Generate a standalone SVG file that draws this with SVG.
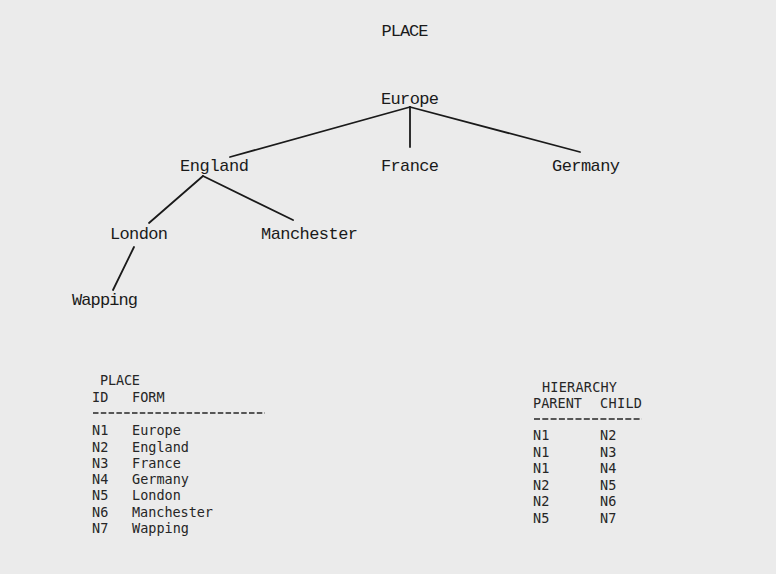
<svg xmlns="http://www.w3.org/2000/svg" width="776" height="574" viewBox="0 0 776 574">
<style>
.bg{fill:#ebebeb}
.n{font-family:"Liberation Mono","DejaVu Sans Mono",monospace;font-size:17px;fill:#1a1a1a;text-anchor:middle}
.t{font-family:"DejaVu Sans Mono","Liberation Mono",monospace;font-size:13.5px;fill:#262626}
.e{stroke:#1a1a1a;stroke-width:1.8;fill:none;stroke-linecap:round}
.d{stroke:#262626;stroke-width:1.3;fill:none}
</style>
<rect class="bg" x="0" y="0" width="776" height="574"/>
<text class="n" x="405" y="36" textLength="47">PLACE</text>
<g id="connectors">
<line class="e" x1="410" y1="107" x2="230" y2="157"/>
<line class="e" x1="410" y1="107" x2="410" y2="147"/>
<line class="e" x1="410" y1="107" x2="580" y2="152"/>
<line class="e" x1="203" y1="176" x2="149" y2="223"/>
<line class="e" x1="203" y1="176" x2="293" y2="220"/>
<line class="e" x1="134" y1="247" x2="113" y2="290"/>
</g>
<g id="n1"><text class="n" x="410" y="104" textLength="58">Europe</text></g>
<g id="n2"><text class="n" x="214.5" y="171" textLength="69">England</text></g>
<g id="n3"><text class="n" x="410" y="171" textLength="58">France</text></g>
<g id="n4"><text class="n" x="586" y="171" textLength="68">Germany</text></g>
<g id="n5"><text class="n" x="139" y="239" textLength="58">London</text></g>
<g id="n6"><text class="n" x="309.5" y="239" textLength="97">Manchester</text></g>
<g id="n7"><text class="n" x="105" y="305" textLength="66">Wapping</text></g>
<g id="place-table">
<text class="t" x="100" y="385" textLength="40">PLACE</text>
<text class="t" x="92" y="402">ID</text>
<text class="t" x="132" y="402">FORM</text>
<line class="d" x1="93" y1="413" x2="265" y2="413" stroke-dasharray="5.5 2.3"/>
<text class="t" x="92" y="435">N1</text><text class="t" x="132" y="435">Europe</text>
<text class="t" x="92" y="452">N2</text><text class="t" x="132" y="452">England</text>
<text class="t" x="92" y="468">N3</text><text class="t" x="132" y="468">France</text>
<text class="t" x="92" y="484">N4</text><text class="t" x="132" y="484">Germany</text>
<text class="t" x="92" y="500">N5</text><text class="t" x="132" y="500">London</text>
<text class="t" x="92" y="517">N6</text><text class="t" x="132" y="517" textLength="81">Manchester</text>
<text class="t" x="92" y="533">N7</text><text class="t" x="132" y="533">Wapping</text>
</g>
<g id="hierarchy-table">
<text class="t" x="542" y="392" textLength="75">HIERARCHY</text>
<text class="t" x="533" y="408" textLength="49">PARENT</text>
<text class="t" x="600" y="408" textLength="42">CHILD</text>
<line class="d" x1="534" y1="419" x2="642" y2="419" stroke-dasharray="6 2.3"/>
<text class="t" x="533" y="440">N1</text><text class="t" x="600" y="440">N2</text>
<text class="t" x="533" y="457">N1</text><text class="t" x="600" y="457">N3</text>
<text class="t" x="533" y="473">N1</text><text class="t" x="600" y="473">N4</text>
<text class="t" x="533" y="490">N2</text><text class="t" x="600" y="490">N5</text>
<text class="t" x="533" y="506">N2</text><text class="t" x="600" y="506">N6</text>
<text class="t" x="533" y="523">N5</text><text class="t" x="600" y="523">N7</text>
</g>
</svg>
